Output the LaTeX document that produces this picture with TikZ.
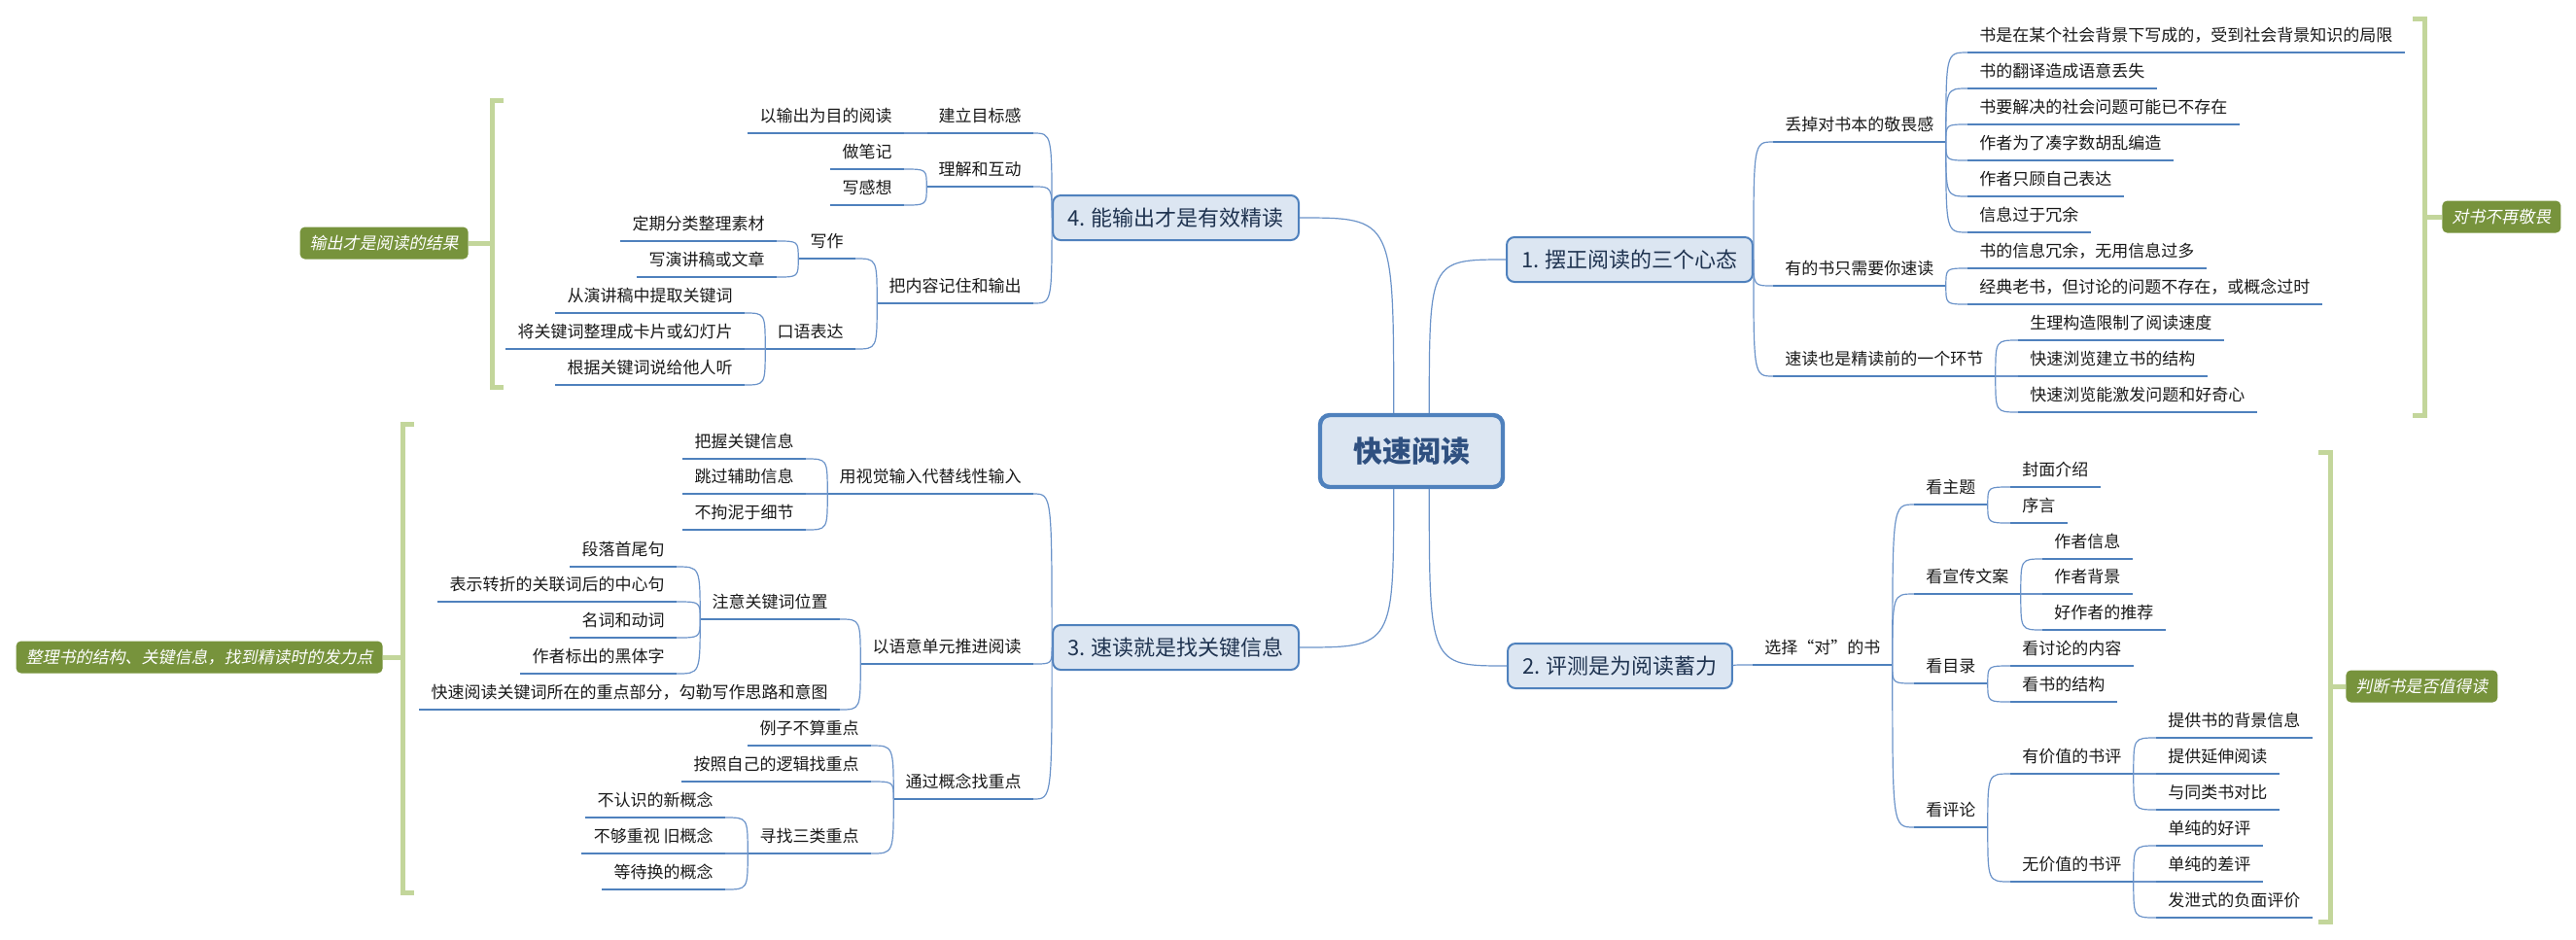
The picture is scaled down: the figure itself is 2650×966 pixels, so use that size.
\documentclass[tikz,border=0pt]{standalone}
\usepackage{fontspec}
\setmainfont{Noto Sans CJK SC}
\newfontfamily\slantfont{Noto Sans CJK SC}[FakeSlant=0.2]
\usetikzlibrary{positioning}

\definecolor{topicblue}{HTML}{4F81BD}
\definecolor{topicfill}{HTML}{DCE6F2}
\definecolor{linkblue}{HTML}{6B93C9}
\definecolor{roottext}{HTML}{2F5080}
\definecolor{topictext}{HTML}{1F3350}
\definecolor{sumgreen}{HTML}{77933C}
\definecolor{brkgreen}{HTML}{C3D69B}

\begin{document}
\begin{tikzpicture}[
x=0.5pt, y=-0.5pt,
every node/.style={font=\fontsize{8.5}{10}\selectfont, text=black!90},
root/.style={draw=topicblue, line width=2.2pt, fill=topicfill, rounded corners=5pt,
  minimum width=94pt, minimum height=37pt,
  font=\fontsize{15}{18}\selectfont\bfseries, text=roottext},
topic/.style={draw=topicblue, line width=1pt, fill=topicfill, rounded corners=4pt,
  minimum height=23pt, inner xsep=7.5pt,
  font=\fontsize{11}{13}\selectfont, text=topictext},
sub/.style={inner xsep=6pt, inner ysep=4pt, text height=7pt, text depth=1.5pt,
  append after command={(\tikzlastnode.south west) edge[uline] (\tikzlastnode.south east)}},
rsub/.style={sub, anchor=south west},
lsub/.style={sub, anchor=south east},
uline/.style={draw=topicblue, line width=1.4pt},
link/.style={draw=linkblue, line width=0.6pt,
  to path={.. controls (\tikztostart |- \tikztotarget) .. (\tikztotarget)}},
summary/.style={fill=sumgreen, rounded corners=2.5pt, minimum height=16.5pt,
  inner xsep=5pt, font=\fontsize{8.5}{10}\selectfont\slantfont, text=white},
brk/.style={draw=brkgreen, line width=2.5pt}
]
\useasboundingbox (0,0) rectangle (2650,966);

% centre and the four topics
\node[root] (root) at (1452,464) {快速阅读};

\node[topic, anchor=west] (t1) at (1549,267) {1. 摆正阅读的三个心态};
\node[topic, anchor=west] (t2) at (1550,685) {2. 评测是为阅读蓄力};
\node[topic, anchor=east] (t3) at (1337,666) {3. 速读就是找关键信息};
\node[topic, anchor=east] (t4) at (1337,224) {4. 能输出才是有效精读};

\path (root.65) edge[link] (t1.west)
      (root.295) edge[link] (t2.west)
      (root.245) edge[link] (t3.east)
      (root.115) edge[link] (t4.east);

% 1. 摆正阅读的三个心态
\node[rsub] (a1) at (1824,146) {丢掉对书本的敬畏感};
\node[rsub] (a2) at (1824,294) {有的书只需要你速读};
\node[rsub] (a3) at (1824,387) {速读也是精读前的一个环节};

\node[rsub] (a11) at (2024,54) {书是在某个社会背景下写成的，受到社会背景知识的局限};
\node[rsub] (a12) at (2024,91) {书的翻译造成语意丢失};
\node[rsub] (a13) at (2024,128) {书要解决的社会问题可能已不存在};
\node[rsub] (a14) at (2024,165) {作者为了凑字数胡乱编造};
\node[rsub] (a15) at (2024,202) {作者只顾自己表达};
\node[rsub] (a16) at (2024,239) {信息过于冗余};

\node[rsub] (a21) at (2024,276) {书的信息冗余，无用信息过多};
\node[rsub] (a22) at (2024,313) {经典老书，但讨论的问题不存在，或概念过时};

\node[rsub] (a31) at (2076,350) {生理构造限制了阅读速度};
\node[rsub] (a32) at (2076,387) {快速浏览建立书的结构};
\node[rsub] (a33) at (2076,424) {快速浏览能激发问题和好奇心};

\path (t1.east) edge[link] (a1.south west) edge[link] (a2.south west) edge[link] (a3.south west);
\path (a1.south east) edge[link] (a11.south west) edge[link] (a12.south west)
  edge[link] (a13.south west) edge[link] (a14.south west)
  edge[link] (a15.south west) edge[link] (a16.south west);
\path (a2.south east) edge[link] (a21.south west) edge[link] (a22.south west);
\path (a3.south east) edge[link] (a31.south west) edge[link] (a32.south west) edge[link] (a33.south west);

% 2. 评测是为阅读蓄力
\node[rsub] (b1) at (1803,684) {选择“对”的书};

\node[rsub] (b11) at (1969,519) {看主题};
\node[rsub] (b12) at (1969,611) {看宣传文案};
\node[rsub] (b13) at (1969,703) {看目录};
\node[rsub] (b14) at (1969,851) {看评论};

\node[rsub] (b111) at (2068,501) {封面介绍};
\node[rsub] (b112) at (2068,538) {序言};
\node[rsub] (b121) at (2101,575) {作者信息};
\node[rsub] (b122) at (2101,611) {作者背景};
\node[rsub] (b123) at (2101,648) {好作者的推荐};
\node[rsub] (b131) at (2068,685) {看讨论的内容};
\node[rsub] (b132) at (2068,722) {看书的结构};
\node[rsub] (b141) at (2068,796) {有价值的书评};
\node[rsub] (b142) at (2068,907) {无价值的书评};

\node[rsub] (b1411) at (2218,759) {提供书的背景信息};
\node[rsub] (b1412) at (2218,796) {提供延伸阅读};
\node[rsub] (b1413) at (2218,833) {与同类书对比};
\node[rsub] (b1421) at (2218,870) {单纯的好评};
\node[rsub] (b1422) at (2218,907) {单纯的差评};
\node[rsub] (b1423) at (2218,944) {发泄式的负面评价};

\path (t2.east) edge[link] (b1.south west);
\path (b1.south east) edge[link] (b11.south west) edge[link] (b12.south west)
  edge[link] (b13.south west) edge[link] (b14.south west);
\path (b11.south east) edge[link] (b111.south west) edge[link] (b112.south west);
\path (b12.south east) edge[link] (b121.south west) edge[link] (b122.south west) edge[link] (b123.south west);
\path (b13.south east) edge[link] (b131.south west) edge[link] (b132.south west);
\path (b14.south east) edge[link] (b141.south west) edge[link] (b142.south west);
\path (b141.south east) edge[link] (b1411.south west) edge[link] (b1412.south west) edge[link] (b1413.south west);
\path (b142.south east) edge[link] (b1421.south west) edge[link] (b1422.south west) edge[link] (b1423.south west);

% 3. 速读就是找关键信息
\node[lsub] (c1) at (1063,508) {用视觉输入代替线性输入};
\node[lsub] (c2) at (1063,683) {以语意单元推进阅读};
\node[lsub] (c3) at (1063,822) {通过概念找重点};

\node[lsub] (c11) at (829,472) {把握关键信息};
\node[lsub] (c12) at (829,508) {跳过辅助信息};
\node[lsub] (c13) at (829,545) {不拘泥于细节};

\node[lsub] (c21) at (864,637) {注意关键词位置};
\node[lsub] (c22) at (864,730) {快速阅读关键词所在的重点部分，勾勒写作思路和意图};
\node[lsub] (c211) at (696,583) {段落首尾句};
\node[lsub] (c212) at (696,619) {表示转折的关联词后的中心句};
\node[lsub] (c213) at (696,656) {名词和动词};
\node[lsub] (c214) at (696,693) {作者标出的黑体字};

\node[lsub] (c31) at (896,767) {例子不算重点};
\node[lsub] (c32) at (896,804) {按照自己的逻辑找重点};
\node[lsub] (c33) at (896,878) {寻找三类重点};
\node[lsub] (c331) at (746,841) {不认识的新概念};
\node[lsub] (c332) at (746,878) {不够重视 旧概念};
\node[lsub] (c333) at (746,915) {等待换的概念};

\path (t3.west) edge[link] (c1.south east) edge[link] (c2.south east) edge[link] (c3.south east);
\path (c1.south west) edge[link] (c11.south east) edge[link] (c12.south east) edge[link] (c13.south east);
\path (c2.south west) edge[link] (c21.south east) edge[link] (c22.south east);
\path (c21.south west) edge[link] (c211.south east) edge[link] (c212.south east)
  edge[link] (c213.south east) edge[link] (c214.south east);
\path (c3.south west) edge[link] (c31.south east) edge[link] (c32.south east) edge[link] (c33.south east);
\path (c33.south west) edge[link] (c331.south east) edge[link] (c332.south east) edge[link] (c333.south east);

% 4. 能输出才是有效精读
\node[lsub] (d1) at (1063,137) {建立目标感};
\node[lsub] (d2) at (1063,192) {理解和互动};
\node[lsub] (d3) at (1063,312) {把内容记住和输出};

\node[lsub] (d11) at (930,137) {以输出为目的阅读};
\node[lsub] (d21) at (930,174) {做笔记};
\node[lsub] (d22) at (930,211) {写感想};
\node[lsub] (d31) at (880,266) {写作};
\node[lsub] (d32) at (880,359) {口语表达};
\node[lsub] (d311) at (799,248) {定期分类整理素材};
\node[lsub] (d312) at (799,285) {写演讲稿或文章};
\node[lsub] (d321) at (766,322) {从演讲稿中提取关键词};
\node[lsub] (d322) at (766,359) {将关键词整理成卡片或幻灯片};
\node[lsub] (d323) at (766,396) {根据关键词说给他人听};

\path (t4.west) edge[link] (d1.south east) edge[link] (d2.south east) edge[link] (d3.south east);
\path (d1.south west) edge[link] (d11.south east);
\path (d2.south west) edge[link] (d21.south east) edge[link] (d22.south east);
\path (d3.south west) edge[link] (d31.south east) edge[link] (d32.south east);
\path (d31.south west) edge[link] (d311.south east) edge[link] (d312.south east);
\path (d32.south west) edge[link] (d321.south east) edge[link] (d322.south east) edge[link] (d323.south east);

% summaries
\node[summary, anchor=west] (s1) at (2512,223) {对书不再敬畏};
\node[summary, anchor=west] (s2) at (2413,706) {判断书是否值得读};
\node[summary, anchor=east] (s3) at (394,676) {整理书的结构、关键信息，找到精读时的发力点};
\node[summary, anchor=east] (s4) at (482,250) {输出才是阅读的结果};

\coordinate (k1) at (2494,223);
\coordinate (k2) at (2397,706);
\coordinate (k3) at (414,676);
\coordinate (k4) at (506,250);

\draw[brk] (2482,19) -- (2494,19) -- (2494,427) -- (2482,427);
\draw[brk] (2385,465) -- (2397,465) -- (2397,948) -- (2385,948);
\draw[brk] (426,436) -- (414,436) -- (414,918) -- (426,918);
\draw[brk] (518,103) -- (506,103) -- (506,398) -- (518,398);
\draw[brk] (k1) -- (s1.west);
\draw[brk] (k2) -- (s2.west);
\draw[brk] (k3) -- (s3.east);
\draw[brk] (k4) -- (s4.east);

\end{tikzpicture}
\end{document}
